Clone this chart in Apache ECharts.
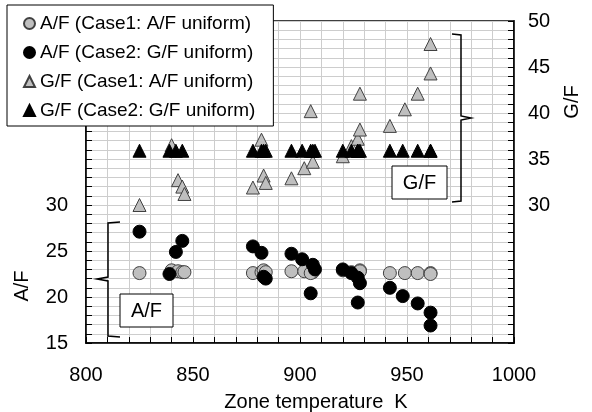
<!DOCTYPE html>
<html>
<head>
<meta charset="utf-8">
<script src="https://cdn.jsdelivr.net/npm/echarts@6/dist/echarts.min.js"></script>
<style>
  html, body { margin: 0; padding: 0; background: #fff; }
  #chart { width: 592px; height: 412px; }
</style>
</head>
<body>
<div id="chart"></div>
<script>
// Case 1 (A/F uniform): zone temperature [K], A/F and G/F per zone
const case1Temp = [825, 840, 843, 845, 846, 878, 882, 883, 884, 896, 902, 906, 905, 920, 924, 927, 928, 928, 942, 949, 955, 961, 961];
const case1AF   = [22.6, 22.9, 22.8, 22.7, 22.7, 22.6, 22.7, 22.9, 22.7, 22.8, 22.8, 22.7, 22.6, 22.9, 22.7, 22.6, 22.9, 22.8, 22.6, 22.6, 22.6, 22.6, 22.5];
const case1GF   = [30.0, 36.5, 32.7, 32.0, 31.2, 31.9, 37.1, 33.2, 32.4, 32.9, 34.0, 34.7, 40.2, 35.3, 36.4, 37.2, 38.2, 42.1, 38.6, 40.4, 42.1, 44.3, 47.5];

// Case 2 (G/F uniform)
const case2Temp = [825, 839, 842, 845, 878, 882, 883, 884, 896, 901, 905, 906, 907, 920, 924, 927, 928, 927, 942, 948, 955, 961, 961];
const case2AF   = [27.1, 22.5, 24.9, 26.1, 25.5, 24.8, 22.2, 22.0, 24.7, 24.1, 20.4, 23.5, 23.0, 23.0, 22.6, 22.1, 21.5, 19.4, 21.0, 20.1, 19.3, 18.3, 16.9];
const case2GF   = [35.9, 35.9, 35.9, 35.9, 35.9, 35.9, 35.9, 35.9, 35.9, 35.9, 35.9, 35.9, 35.9, 35.9, 35.9, 35.9, 35.9, 35.9, 35.9, 35.9, 35.9, 35.9, 35.9];

const seriesNames = [
  'A/F (Case1: A/F uniform)',
  'A/F (Case2: G/F uniform)',
  'G/F (Case1: A/F uniform)',
  'G/F (Case2: G/F uniform)'
];

const xTitle = 'Zone temperature  K';
const leftTitle = 'A/F';
const rightTitle = 'G/F';

const pairs = (xs, ys) => xs.map((x, i) => [x, ys[i]]);

const FONT = '"Liberation Sans", Arial, sans-serif';
const GRID_COLOR = '#cdcdcd';
const GRAY = '#bfbfbf';

const chart = echarts.init(document.getElementById('chart'), null, { renderer: 'canvas' });

const tickStyle = { show: true, inside: true, length: 6, lineStyle: { color: '#000', width: 1 } };
const minorTickStyle = { show: true, splitNumber: 5, length: 6, lineStyle: { color: '#000', width: 1 } };

const grayMark = { color: GRAY, borderColor: '#404040', borderWidth: 1, opacity: 1 };
const blackMark = { color: '#000', borderColor: '#000', borderWidth: 1, opacity: 1 };

const option = {
  backgroundColor: '#fff',
  animation: false,
  textStyle: { fontFamily: FONT },
  grid: {
    left: 86, right: 78, top: 21, bottom: 69,
    outerBoundsMode: 'none',
    containLabel: false,
    show: true, borderColor: '#000', borderWidth: 1.5, backgroundColor: 'transparent'
  },
  legend: {
    orient: 'vertical',
    left: 7, top: 5,
    padding: [9, 18, 6, 16],
    itemGap: 10,
    itemWidth: 11, itemHeight: 11,
    backgroundColor: '#fff',
    borderColor: '#000', borderWidth: 1,
    borderRadius: 0,
    textStyle: { fontSize: 19, color: '#000', fontFamily: FONT },
    data: seriesNames
  },
  xAxis: {
    type: 'value',
    min: 800, max: 1000, interval: 50,
    name: xTitle,
    nameLocation: 'middle',
    nameGap: 49,
    nameTextStyle: { fontSize: 20, color: '#000', padding: [0, 0, 0, 32] },
    axisLine: { show: true, lineStyle: { color: '#000', width: 1.5 } },
    axisTick: tickStyle,
    minorTick: minorTickStyle,
    axisLabel: { fontSize: 20, color: '#000', margin: 22, formatter: v => String(v) },
    splitLine: { show: true, lineStyle: { color: GRID_COLOR, width: 1 } },
    minorSplitLine: { show: true, lineStyle: { color: GRID_COLOR, width: 1 } }
  },
  yAxis: [
    {
      type: 'value',
      position: 'left',
      min: 15, max: 50, interval: 5,
      axisLine: { show: true, lineStyle: { color: '#000', width: 1.5 } },
      axisTick: tickStyle,
      minorTick: minorTickStyle,
      axisLabel: {
        fontSize: 20, color: '#000', margin: 18,
        formatter: v => (v <= 30 ? String(v) : '')
      },
      splitLine: { show: true, lineStyle: { color: GRID_COLOR, width: 1 } },
      minorSplitLine: { show: true, lineStyle: { color: GRID_COLOR, width: 1 } }
    },
    {
      type: 'value',
      position: 'right',
      min: 15, max: 50, interval: 5,
      axisLine: { show: true, lineStyle: { color: '#000', width: 1.5 } },
      axisTick: tickStyle,
      minorTick: minorTickStyle,
      axisLabel: {
        fontSize: 20, color: '#000', margin: 14,
        formatter: v => (v >= 30 ? String(v) : '')
      },
      splitLine: { show: false }
    }
  ],
  series: [
    {
      name: seriesNames[0], type: 'scatter', yAxisIndex: 0,
      symbol: 'circle', symbolSize: 13,
      itemStyle: grayMark,
      data: pairs(case1Temp, case1AF)
    },
    {
      name: seriesNames[1], type: 'scatter', yAxisIndex: 0,
      symbol: 'circle', symbolSize: 13,
      itemStyle: blackMark,
      data: pairs(case2Temp, case2AF)
    },
    {
      name: seriesNames[2], type: 'scatter', yAxisIndex: 1,
      symbol: 'triangle', symbolSize: 13,
      itemStyle: grayMark,
      data: pairs(case1Temp, case1GF)
    },
    {
      name: seriesNames[3], type: 'scatter', yAxisIndex: 1,
      symbol: 'triangle', symbolSize: 13,
      itemStyle: blackMark,
      data: pairs(case2Temp, case2GF)
    }
  ]
};

chart.setOption(option);

// Axis titles, range brackets and their tags
const bracketStyle = { stroke: '#000', lineWidth: 1.5, fill: null };
chart.setOption({
  graphic: [
    {
      type: 'text', x: 22, y: 286, rotation: Math.PI / 2, z: 10,
      style: { text: leftTitle, font: '20px ' + FONT, fill: '#000', align: 'center', verticalAlign: 'middle' }
    },
    {
      type: 'text', x: 572, y: 102, rotation: Math.PI / 2, z: 10,
      style: { text: rightTitle, font: '20px ' + FONT, fill: '#000', align: 'center', verticalAlign: 'middle' }
    },
    {
      type: 'polyline', z: 10,
      shape: { points: [[120, 222], [108, 223], [108, 277], [97, 279], [108, 281], [108, 336], [120, 337]] },
      style: bracketStyle
    },
    {
      type: 'rect', z: 10,
      shape: { x: 120, y: 294, width: 53, height: 33 },
      style: { fill: '#fff', stroke: '#000', lineWidth: 1 }
    },
    {
      type: 'text', x: 146.5, y: 311, z: 11,
      style: { text: 'A/F', font: '20px ' + FONT, fill: '#000', align: 'center', verticalAlign: 'middle' }
    },
    {
      type: 'polyline', z: 10,
      shape: { points: [[452, 34], [461, 35], [461, 116], [471, 118], [461, 120], [461, 201], [452, 202]] },
      style: bracketStyle
    },
    {
      type: 'rect', z: 10,
      shape: { x: 392, y: 166, width: 55, height: 33 },
      style: { fill: '#fff', stroke: '#000', lineWidth: 1 }
    },
    {
      type: 'text', x: 419.5, y: 183, z: 11,
      style: { text: 'G/F', font: '20px ' + FONT, fill: '#000', align: 'center', verticalAlign: 'middle' }
    }
  ]
});
</script>
</body>
</html>
